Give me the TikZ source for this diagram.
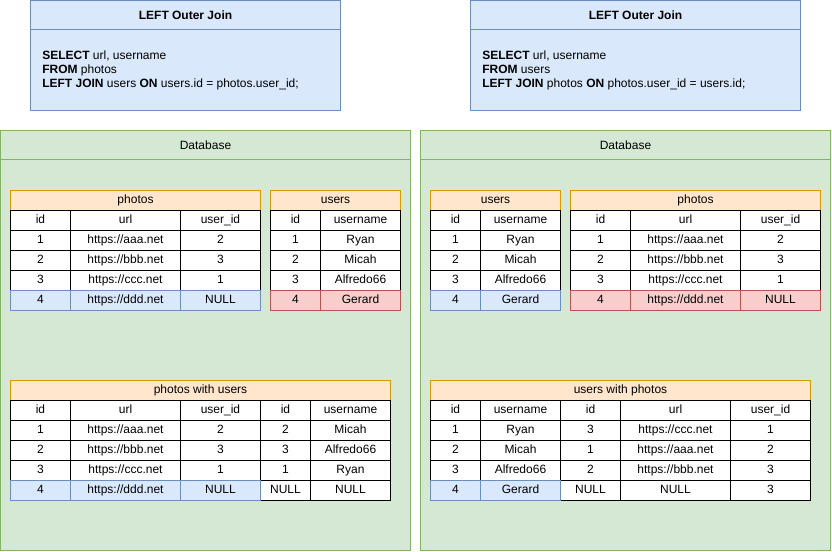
\documentclass[tikz,border=0pt]{standalone}
\usepackage{fontspec}
\setmainfont{Liberation Sans}
\usetikzlibrary{positioning}
\definecolor{dbfill}{HTML}{D5E8D4}
\definecolor{dbline}{HTML}{82B366}
\definecolor{keptfill}{HTML}{DAE8FC}
\definecolor{keptline}{HTML}{6C8EBF}
\definecolor{headfill}{HTML}{FFE6CC}
\definecolor{headline}{HTML}{D79B00}
\definecolor{lostfill}{HTML}{F8CECC}
\definecolor{lostline}{HTML}{B85450}
\newlength{\px}
\setlength{\px}{0.75pt}
\tikzset{
  every node/.style={font=\fontsize{9pt}{10.5pt}\selectfont, inner sep=0pt},
  colw/.style={minimum width=#1*\px},
  cell/.style={draw=black, fill=white, line width=0.75pt,
    text height=6.6pt, text depth=2pt,
    minimum height=20*\px, anchor=north west},
  kept/.style={cell, draw=keptline, fill=keptfill},
  lost/.style={cell, draw=lostline, fill=lostfill},
  tabtitle/.style={cell, draw=headline, fill=headfill},
  dbbox/.style={draw=dbline, fill=dbfill, line width=0.75pt,
    minimum width=410*\px, minimum height=420*\px, anchor=north west},
  querybox/.style={draw=keptline, fill=keptfill, line width=0.75pt,
    minimum height=110*\px, anchor=north west},
}

\begin{document}
\begin{tikzpicture}[x=0.75pt, y=-0.75pt]
  \useasboundingbox (0,0) rectangle (832,552);

  % queries
  \node[querybox, colw=310] (lq) at (30,0) {};
  \node[querybox, colw=330] (rq) at (470,0) {};
  \foreach \q in {lq, rq} {
    \draw[keptline, line width=0.75pt] ([yshift=-30*\px]\q.north west) -- ([yshift=-30*\px]\q.north east);
    \node[font=\fontsize{9pt}{10.5pt}\selectfont\bfseries] (\q-title) at ([yshift=-15*\px]\q.north) {LEFT Outer Join};
  }
  \node[anchor=west, align=left] (lq-sql) at (42,70)
    {\textbf{SELECT} url, username\\\textbf{FROM} photos\\\textbf{LEFT JOIN} users \textbf{ON} users.id = photos.user\_id;};
  \node[anchor=west, align=left] (rq-sql) at (482,70)
    {\textbf{SELECT} url, username\\\textbf{FROM} users\\\textbf{LEFT JOIN} photos \textbf{ON} photos.user\_id = users.id;};

  % databases
  \node[dbbox] (ldb) at (0,130) {};
  \node[dbbox] (rdb) at (420,130) {};
  \foreach \d in {ldb, rdb} {
    \draw[dbline, line width=0.75pt] ([yshift=-30*\px]\d.north west) -- ([yshift=-30*\px]\d.north east);
    \node (\d-title) at ([yshift=-15*\px]\d.north) {Database};
  }

  % left: photos
  \node[tabtitle, colw=250] (lp) at (10,190) {photos};
  \foreach \a/\b/\c [count=\j from 0] in {id/url/user\_id, 1/{https://aaa.net}/2,
      2/{https://bbb.net}/3, 3/{https://ccc.net}/1} {
    \node[cell, colw=60]  (lp-\j-1) at (10,210+20*\j)  {\a};
    \node[cell, colw=110] (lp-\j-2) at (70,210+20*\j)  {\b};
    \node[cell, colw=80]  (lp-\j-3) at (180,210+20*\j) {\c};
  }
  \node[kept, colw=60]  (lp-4-1) at (10,290)  {4};
  \node[kept, colw=110] (lp-4-2) at (70,290)  {https://ddd.net};
  \node[kept, colw=80]  (lp-4-3) at (180,290) {NULL};

  % left: users
  \node[tabtitle, colw=130] (lu) at (270,190) {users};
  \foreach \a/\b [count=\j from 0] in {id/username, 1/Ryan, 2/Micah, 3/Alfredo66} {
    \node[cell, colw=50] (lu-\j-1) at (270,210+20*\j) {\a};
    \node[cell, colw=80] (lu-\j-2) at (320,210+20*\j) {\b};
  }
  \node[lost, colw=50] (lu-4-1) at (270,290) {4};
  \node[lost, colw=80] (lu-4-2) at (320,290) {Gerard};

  % left: result
  \node[tabtitle, colw=380] (lr) at (10,380) {photos with users};
  \foreach \a/\b/\c/\d/\e [count=\j from 0] in {id/url/user\_id/id/username,
      1/{https://aaa.net}/2/2/Micah, 2/{https://bbb.net}/3/3/Alfredo66,
      3/{https://ccc.net}/1/1/Ryan} {
    \node[cell, colw=60]  (lr-\j-1) at (10,400+20*\j)  {\a};
    \node[cell, colw=110] (lr-\j-2) at (70,400+20*\j)  {\b};
    \node[cell, colw=80]  (lr-\j-3) at (180,400+20*\j) {\c};
    \node[cell, colw=50]  (lr-\j-4) at (260,400+20*\j) {\d};
    \node[cell, colw=80]  (lr-\j-5) at (310,400+20*\j) {\e};
  }
  \node[cell, colw=50]  (lr-4-4) at (260,480) {NULL};
  \node[cell, colw=80]  (lr-4-5) at (310,480) {NULL};
  \node[kept, colw=60]  (lr-4-1) at (10,480)  {4};
  \node[kept, colw=110] (lr-4-2) at (70,480)  {https://ddd.net};
  \node[kept, colw=80]  (lr-4-3) at (180,480) {NULL};

  % right: users
  \node[tabtitle, colw=130] (ru) at (430,190) {users};
  \foreach \a/\b [count=\j from 0] in {id/username, 1/Ryan, 2/Micah, 3/Alfredo66} {
    \node[cell, colw=50] (ru-\j-1) at (430,210+20*\j) {\a};
    \node[cell, colw=80] (ru-\j-2) at (480,210+20*\j) {\b};
  }
  \node[kept, colw=50] (ru-4-1) at (430,290) {4};
  \node[kept, colw=80] (ru-4-2) at (480,290) {Gerard};

  % right: photos
  \node[tabtitle, colw=250] (rp) at (570,190) {photos};
  \foreach \a/\b/\c [count=\j from 0] in {id/url/user\_id, 1/{https://aaa.net}/2,
      2/{https://bbb.net}/3, 3/{https://ccc.net}/1} {
    \node[cell, colw=60]  (rp-\j-1) at (570,210+20*\j) {\a};
    \node[cell, colw=110] (rp-\j-2) at (630,210+20*\j) {\b};
    \node[cell, colw=80]  (rp-\j-3) at (740,210+20*\j) {\c};
  }
  \node[lost, colw=60]  (rp-4-1) at (570,290) {4};
  \node[lost, colw=110] (rp-4-2) at (630,290) {https://ddd.net};
  \node[lost, colw=80]  (rp-4-3) at (740,290) {NULL};

  % right: result
  \node[tabtitle, colw=380] (rr) at (430,380) {users with photos};
  \foreach \a/\b/\c/\d/\e [count=\j from 0] in {id/username/id/url/user\_id,
      1/Ryan/3/{https://ccc.net}/1, 2/Micah/1/{https://aaa.net}/2,
      3/Alfredo66/2/{https://bbb.net}/3} {
    \node[cell, colw=50]  (rr-\j-1) at (430,400+20*\j) {\a};
    \node[cell, colw=80]  (rr-\j-2) at (480,400+20*\j) {\b};
    \node[cell, colw=60]  (rr-\j-3) at (560,400+20*\j) {\c};
    \node[cell, colw=110] (rr-\j-4) at (620,400+20*\j) {\d};
    \node[cell, colw=80]  (rr-\j-5) at (730,400+20*\j) {\e};
  }
  \node[cell, colw=60]  (rr-4-3) at (560,480) {NULL};
  \node[cell, colw=110] (rr-4-4) at (620,480) {NULL};
  \node[cell, colw=80]  (rr-4-5) at (730,480) {3};
  \node[kept, colw=50]  (rr-4-1) at (430,480) {4};
  \node[kept, colw=80]  (rr-4-2) at (480,480) {Gerard};
\end{tikzpicture}
\end{document}
